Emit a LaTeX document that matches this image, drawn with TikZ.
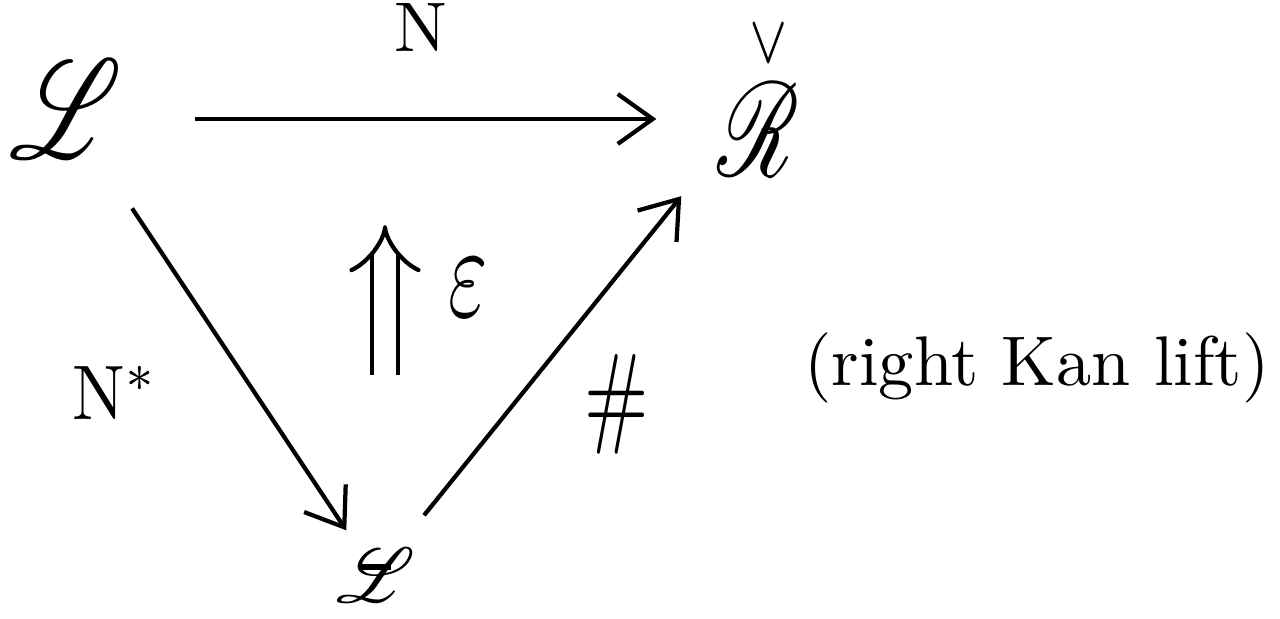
\documentclass[tikz,border=0pt]{standalone}
\usepackage{amsmath}
\usepackage{mathrsfs}
\usetikzlibrary{positioning,arrows.meta}

\newcommand{\strokeL}{\ooalign{$\mathscr{L}$\cr
  \hidewidth\raisebox{0.42em}{\rule{0.4em}{0.07em}}\hidewidth\cr}}
\newcommand{\checkR}{$\mathscr{R}$\llap{\raisebox{8.5pt}{$\scriptscriptstyle\vee$}\hspace{1pt}}}

\begin{document}
\begin{tikzpicture}[
  obj/.style={xscale=3, yscale=4, inner sep=1pt},
  lbl/.style={scale=2},
  arr/.style={line width=1.2pt, -{Straight Barb[length=3.5mm, width=5mm]}},
  twocell/.style={line width=1.2pt, double distance=6pt, -{Implies}},
]
  \useasboundingbox (0,0) rectangle (12.8,6.19);

  % Objects of the triangle
  \node[obj] (L)  at (0.66,5.10) {$\mathscr{L}$};
  \node[obj, xscale=0.85, yscale=0.95] (R) at (7.58,5.18) {\checkR};
  \node[obj, xscale=0.7, yscale=0.55] (Lb) at (3.76,0.44) {\strokeL};

  % 1-cells
  \draw[arr, shorten <=6mm, shorten >=5mm] ([yshift=-1mm]L.east)
    -- ([yshift=-1mm]L.east -| R.west)
    node[lbl, midway, above=4mm] (n) {$\mathrm{N}$};
  \draw[arr, shorten <=4mm, shorten >=1mm] (L) -- (Lb)
    node[lbl, pos=0.6, left=7mm, yscale=1.1] (nstar) {$\mathrm{N}^{*}$};
  \draw[arr, shorten <=3mm, shorten >=4mm] (Lb) -- (R)
    node[lbl, pos=0.36, right=4mm, xscale=1.1, yscale=1.6] (sharp) {$\#$};

  % 2-cell
  \coordinate (eb) at (3.85,2.44);
  \coordinate (et) at (3.85,3.94);
  \draw[twocell] (eb) -- (et)
    node[lbl, pos=0.58, right=3mm, xscale=1.2, yscale=1.9] (eps) {$\varepsilon$};

  % comment
  \node[scale=2] (kan) at (10.37,2.51) {(right Kan lift)};
\end{tikzpicture}
\end{document}
